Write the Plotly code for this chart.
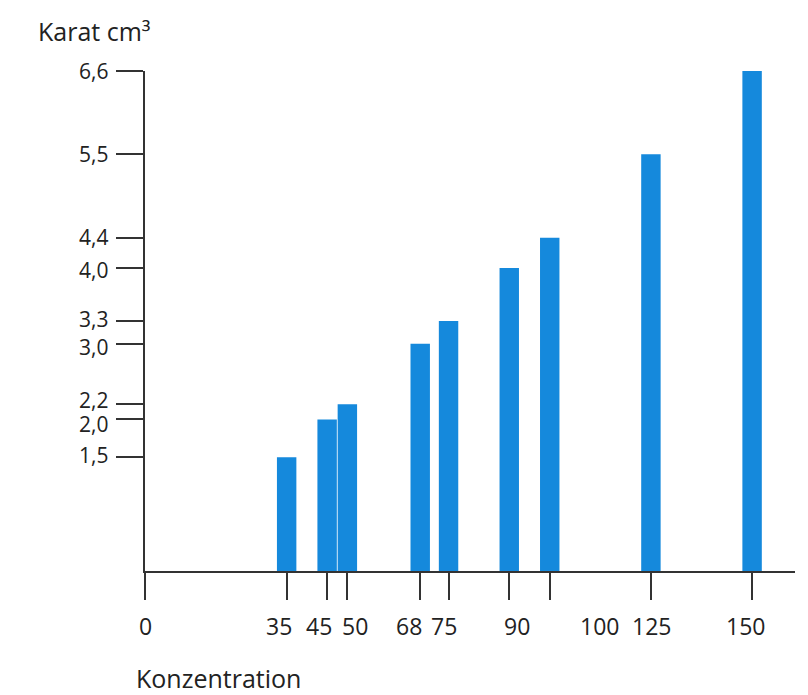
import plotly.graph_objects as go

konzentration = [35, 45, 50, 68, 75, 90, 100, 125, 150]
karat = [1.5, 2.0, 2.2, 3.0, 3.3, 4.0, 4.4, 5.5, 6.6]
x_ticks = [0, 35, 45, 50, 68, 75, 90, 100, 125, 150]
x_tick_labels = ["0", "35", "45", "50", "68", "75", "90", "100", "125", "150"]
y_ticks = [1.5, 2.0, 2.2, 3.0, 3.3, 4.0, 4.4, 5.5, 6.6]
y_tick_labels = ["1,5", "2,0", "2,2", "3,0", "3,3", "4,0", "4,4", "5,5", "6,6"]

# pixel nudges of the tick labels (style only)
x_label_nudge = [0, -8, -8, 8, -11, -5, 8, 50, 1, -7]
y_label_nudge = [2, -5, 4, -3, 2, -2, 1, 0, 0]

font_family = "Open Sans, Noto Sans, sans-serif"
axis_color = "#333333"
text_color = "#222222"

fig = go.Figure(go.Bar(
    x=konzentration, y=karat, width=4.8,
    marker=dict(color="#1589dc", line=dict(width=0)),
))

annotations = [
    dict(text=lab, xref="x", yref="paper", x=v, y=0, xshift=dx, yshift=-55,
         xanchor="center", yanchor="middle", showarrow=False,
         font=dict(size=23, family=font_family, color=text_color))
    for v, lab, dx in zip(x_ticks, x_tick_labels, x_label_nudge)
]
annotations += [
    dict(text=lab, xref="paper", yref="y", x=0, y=v, xshift=-36, yshift=dy,
         xanchor="right", yanchor="middle", showarrow=False, borderpad=0,
         font=dict(size=21, family=font_family, color=text_color))
    for v, lab, dy in zip(y_ticks, y_tick_labels, y_label_nudge)
]
annotations += [
    dict(text="Karat cm³", xref="paper", yref="paper", x=-0.168, y=1.0,
         yshift=40, xanchor="left", yanchor="middle", showarrow=False,
         font=dict(size=25, family=font_family, color=text_color)),
    dict(text="Konzentration", xref="paper", yref="paper", x=-0.017, y=0,
         yshift=-107, xanchor="left", yanchor="middle", showarrow=False,
         font=dict(size=25, family=font_family, color=text_color)),
]

fig.update_layout(
    width=800, height=687,
    margin=dict(l=137, r=13, t=63, b=124),
    paper_bgcolor="white", plot_bgcolor="white",
    showlegend=False,
    font=dict(family=font_family, size=21, color=text_color),
    xaxis=dict(
        range=[0, 160.6], tickmode="array", tickvals=x_ticks, showticklabels=False,
        automargin=False,
        showgrid=False, zeroline=False, showline=True, linecolor=axis_color, linewidth=1.5,
        ticks="outside", ticklen=27, tickwidth=1.5, tickcolor=axis_color,
    ),
    yaxis=dict(
        range=[0, 6.6], tickmode="array", tickvals=y_ticks, showticklabels=False,
        automargin=False,
        showgrid=False, zeroline=False, showline=True, linecolor=axis_color, linewidth=1.5,
        ticks="outside", ticklen=27, tickwidth=1.5, tickcolor=axis_color,
    ),
    annotations=annotations,
)

fig.write_html("out.html")
